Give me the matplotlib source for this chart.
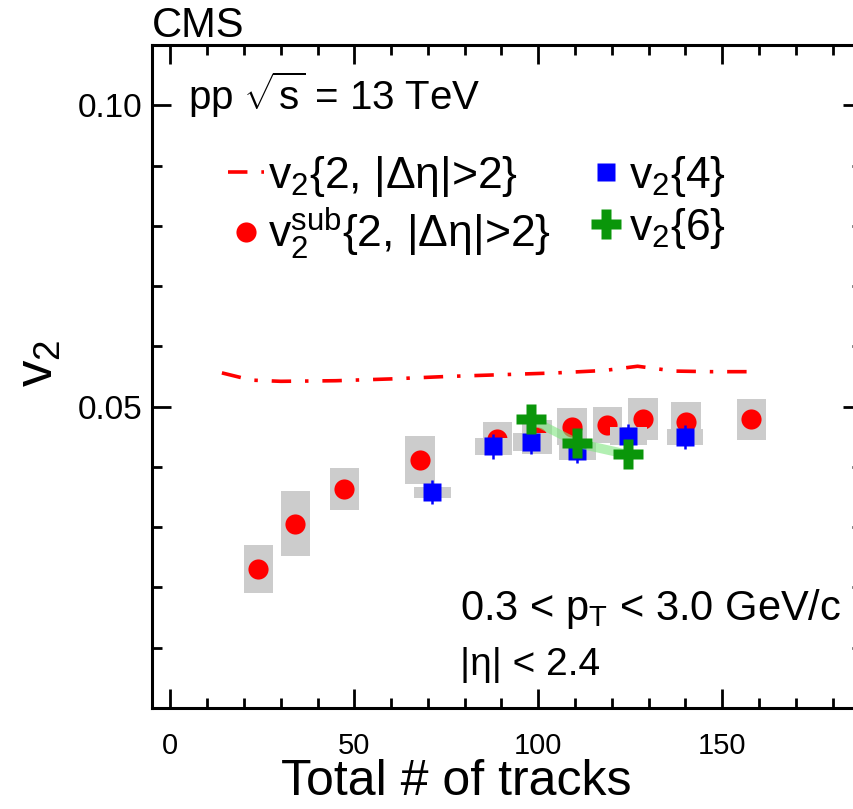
import matplotlib
matplotlib.use("Agg")
import matplotlib.pyplot as plt
from matplotlib.lines import Line2D
from matplotlib.ticker import MultipleLocator, FixedLocator, FormatStrFormatter

plt.rcParams['font.family'] = ['Liberation Sans', 'DejaVu Sans']
plt.rcParams['mathtext.fontset'] = 'custom'
plt.rcParams['mathtext.rm'] = 'Liberation Sans'
plt.rcParams['mathtext.it'] = 'Liberation Sans'
plt.rcParams['mathtext.bf'] = 'Liberation Sans:bold'
plt.rcParams['lines.scale_dashes'] = False

# v2{2, |deta|>2} (dash-dotted curve)
ntrk_v22 = [14, 22, 30, 45, 60, 75, 90, 105, 118, 127, 137, 147, 158]
v2_v22 = [0.0556, 0.0544, 0.0542, 0.0543, 0.0546, 0.0550, 0.0553,
          0.0556, 0.0560, 0.0567, 0.0559, 0.0558, 0.0558]

# v2^sub{2, |deta|>2}
ntrk_sub = [23.9, 34.0, 47.3, 67.9, 88.9, 99.7, 109.2, 118.8, 128.5, 140.2, 157.9]
v2_sub = [0.0230, 0.0306, 0.0363, 0.0411, 0.0447, 0.0450, 0.0467,
          0.0470, 0.0480, 0.0474, 0.0479]
v2_sub_sys = [0.0040, 0.0054, 0.0035, 0.0040, 0.0027, 0.0028, 0.0030,
              0.0030, 0.0035, 0.0033, 0.0034]

# v2{4}
ntrk_v24 = [71.2, 87.8, 98.1, 110.6, 124.5, 139.9]
v2_v24 = [0.0358, 0.0434, 0.0442, 0.0426, 0.0452, 0.0450]
v2_v24_stat = [0.0020, 0.0021, 0.0020, 0.0020, 0.0020, 0.0020]
v2_v24_sys = [0.0009, 0.0014, 0.0015, 0.0015, 0.0015, 0.0013]

# v2{6}
ntrk_v26 = [98.1, 110.6, 124.5]
v2_v26 = [0.0479, 0.0440, 0.0421]
v2_v26_sys = [0.0008, 0.0008, 0.0008]

RED = '#ff0000'
BLUE = '#0000ff'
GREEN = '#0a960a'
GRAY = '#cccccc'
DASHDOT = (14, 10, 2.5, 10)

W, H = 854, 809
fig = plt.figure(figsize=(W / 100, H / 100), dpi=100)
ax = fig.add_axes([152 / W, (H - 708) / H, 710 / W, 663 / H])

# dash-dotted v2{2}
ax.plot(ntrk_v22, v2_v22, color=RED, lw=2.6, dashes=DASHDOT, zorder=3)

# systematic boxes and points for v2^sub
ax.bar(ntrk_sub, [2 * s for s in v2_sub_sys],
       bottom=[v - s for v, s in zip(v2_sub, v2_sub_sys)],
       width=8, color=GRAY, zorder=1, linewidth=0)
ax.plot(ntrk_sub, v2_sub, 'o', color=RED, ms=14.5, mec='none', zorder=4)

# v2{4}
ax.bar(ntrk_v24, [2 * s for s in v2_v24_sys],
       bottom=[v - s for v, s in zip(v2_v24, v2_v24_sys)],
       width=10, color=GRAY, zorder=5, linewidth=0)
ax.errorbar(ntrk_v24, v2_v24, yerr=v2_v24_stat, fmt='s', color=BLUE,
            ms=13, mec='none', elinewidth=1.8, capsize=0, zorder=6)

# v2{6}
ax.fill_between(ntrk_v26, [v - s for v, s in zip(v2_v26, v2_v26_sys)],
                [v + s for v, s in zip(v2_v26, v2_v26_sys)],
                color='#7fe57f', alpha=0.6, lw=0, zorder=7)
ax.plot(ntrk_v26, v2_v26, 'P', color=GREEN, ms=21, mec='none', zorder=8)

# axes
ax.set_xlim(-5, 188)
ax.set_ylim(0, 0.11)
ax.xaxis.set_major_locator(FixedLocator([0, 50, 100, 150]))
ax.xaxis.set_minor_locator(MultipleLocator(10))
ax.yaxis.set_major_locator(FixedLocator([0.05, 0.10]))
ax.yaxis.set_minor_locator(MultipleLocator(0.01))
ax.yaxis.set_major_formatter(FormatStrFormatter('%.2f'))
ax.tick_params(which='both', direction='in', top=True, right=True, width=2)
ax.tick_params(which='major', length=14)
ax.tick_params(which='minor', length=7)
ax.tick_params(axis='x', pad=17, labelsize=21)
ax.tick_params(axis='y', pad=7, labelsize=24)
for sp in ax.spines.values():
    sp.set_linewidth(2.2)

ax.set_xlabel('Total # of tracks', fontsize=36)
ax.xaxis.set_label_coords((456 - 152) / 710, -(759 - 708) / 663)
ax.set_ylabel('v$_2$', fontsize=38)
ax.yaxis.set_label_coords((64 - 152) / 710, (708 - 363) / 663)

# texts
fig.text(152 / W, 1 - 37 / H, 'CMS', fontsize=30, va='baseline')
fig.text(188 / W, 1 - 110 / H, r'pp $\sqrt{s}$ = 13 TeV', fontsize=29, va='baseline')
fig.text(460 / W, 1 - 620 / H, r'0.3 < p$_\mathrm{T}$ < 3.0 GeV/c', fontsize=30, va='baseline')
fig.text(460 / W, 1 - 675 / H, '|η| < 2.4', fontsize=28, va='baseline')

# legend
handles = [
    Line2D([], [], color=RED, lw=2.6, dashes=DASHDOT),
    Line2D([], [], ls='none', marker='o', color=RED, ms=14.5, mec='none'),
    Line2D([], [], ls='none', marker='s', color=BLUE, ms=13, mec='none'),
    Line2D([], [], ls='none', marker='P', color=GREEN, ms=21, mec='none'),
]
labels = [
    'v$_2${2, |Δη|>2}',
    'v$_2^{\\mathrm{sub}}${2, |Δη|>2}',
    'v$_2${4}',
    'v$_2${6}',
]
fig.legend(handles, labels, ncol=2, loc='upper left',
           bbox_to_anchor=(228 / W, 1 - 154 / H), frameon=False, fontsize=32,
           handlelength=0.8, handletextpad=0.1, columnspacing=0.85,
           labelspacing=0.15, borderpad=0, borderaxespad=0)

fig.savefig('out.png', dpi=100)
